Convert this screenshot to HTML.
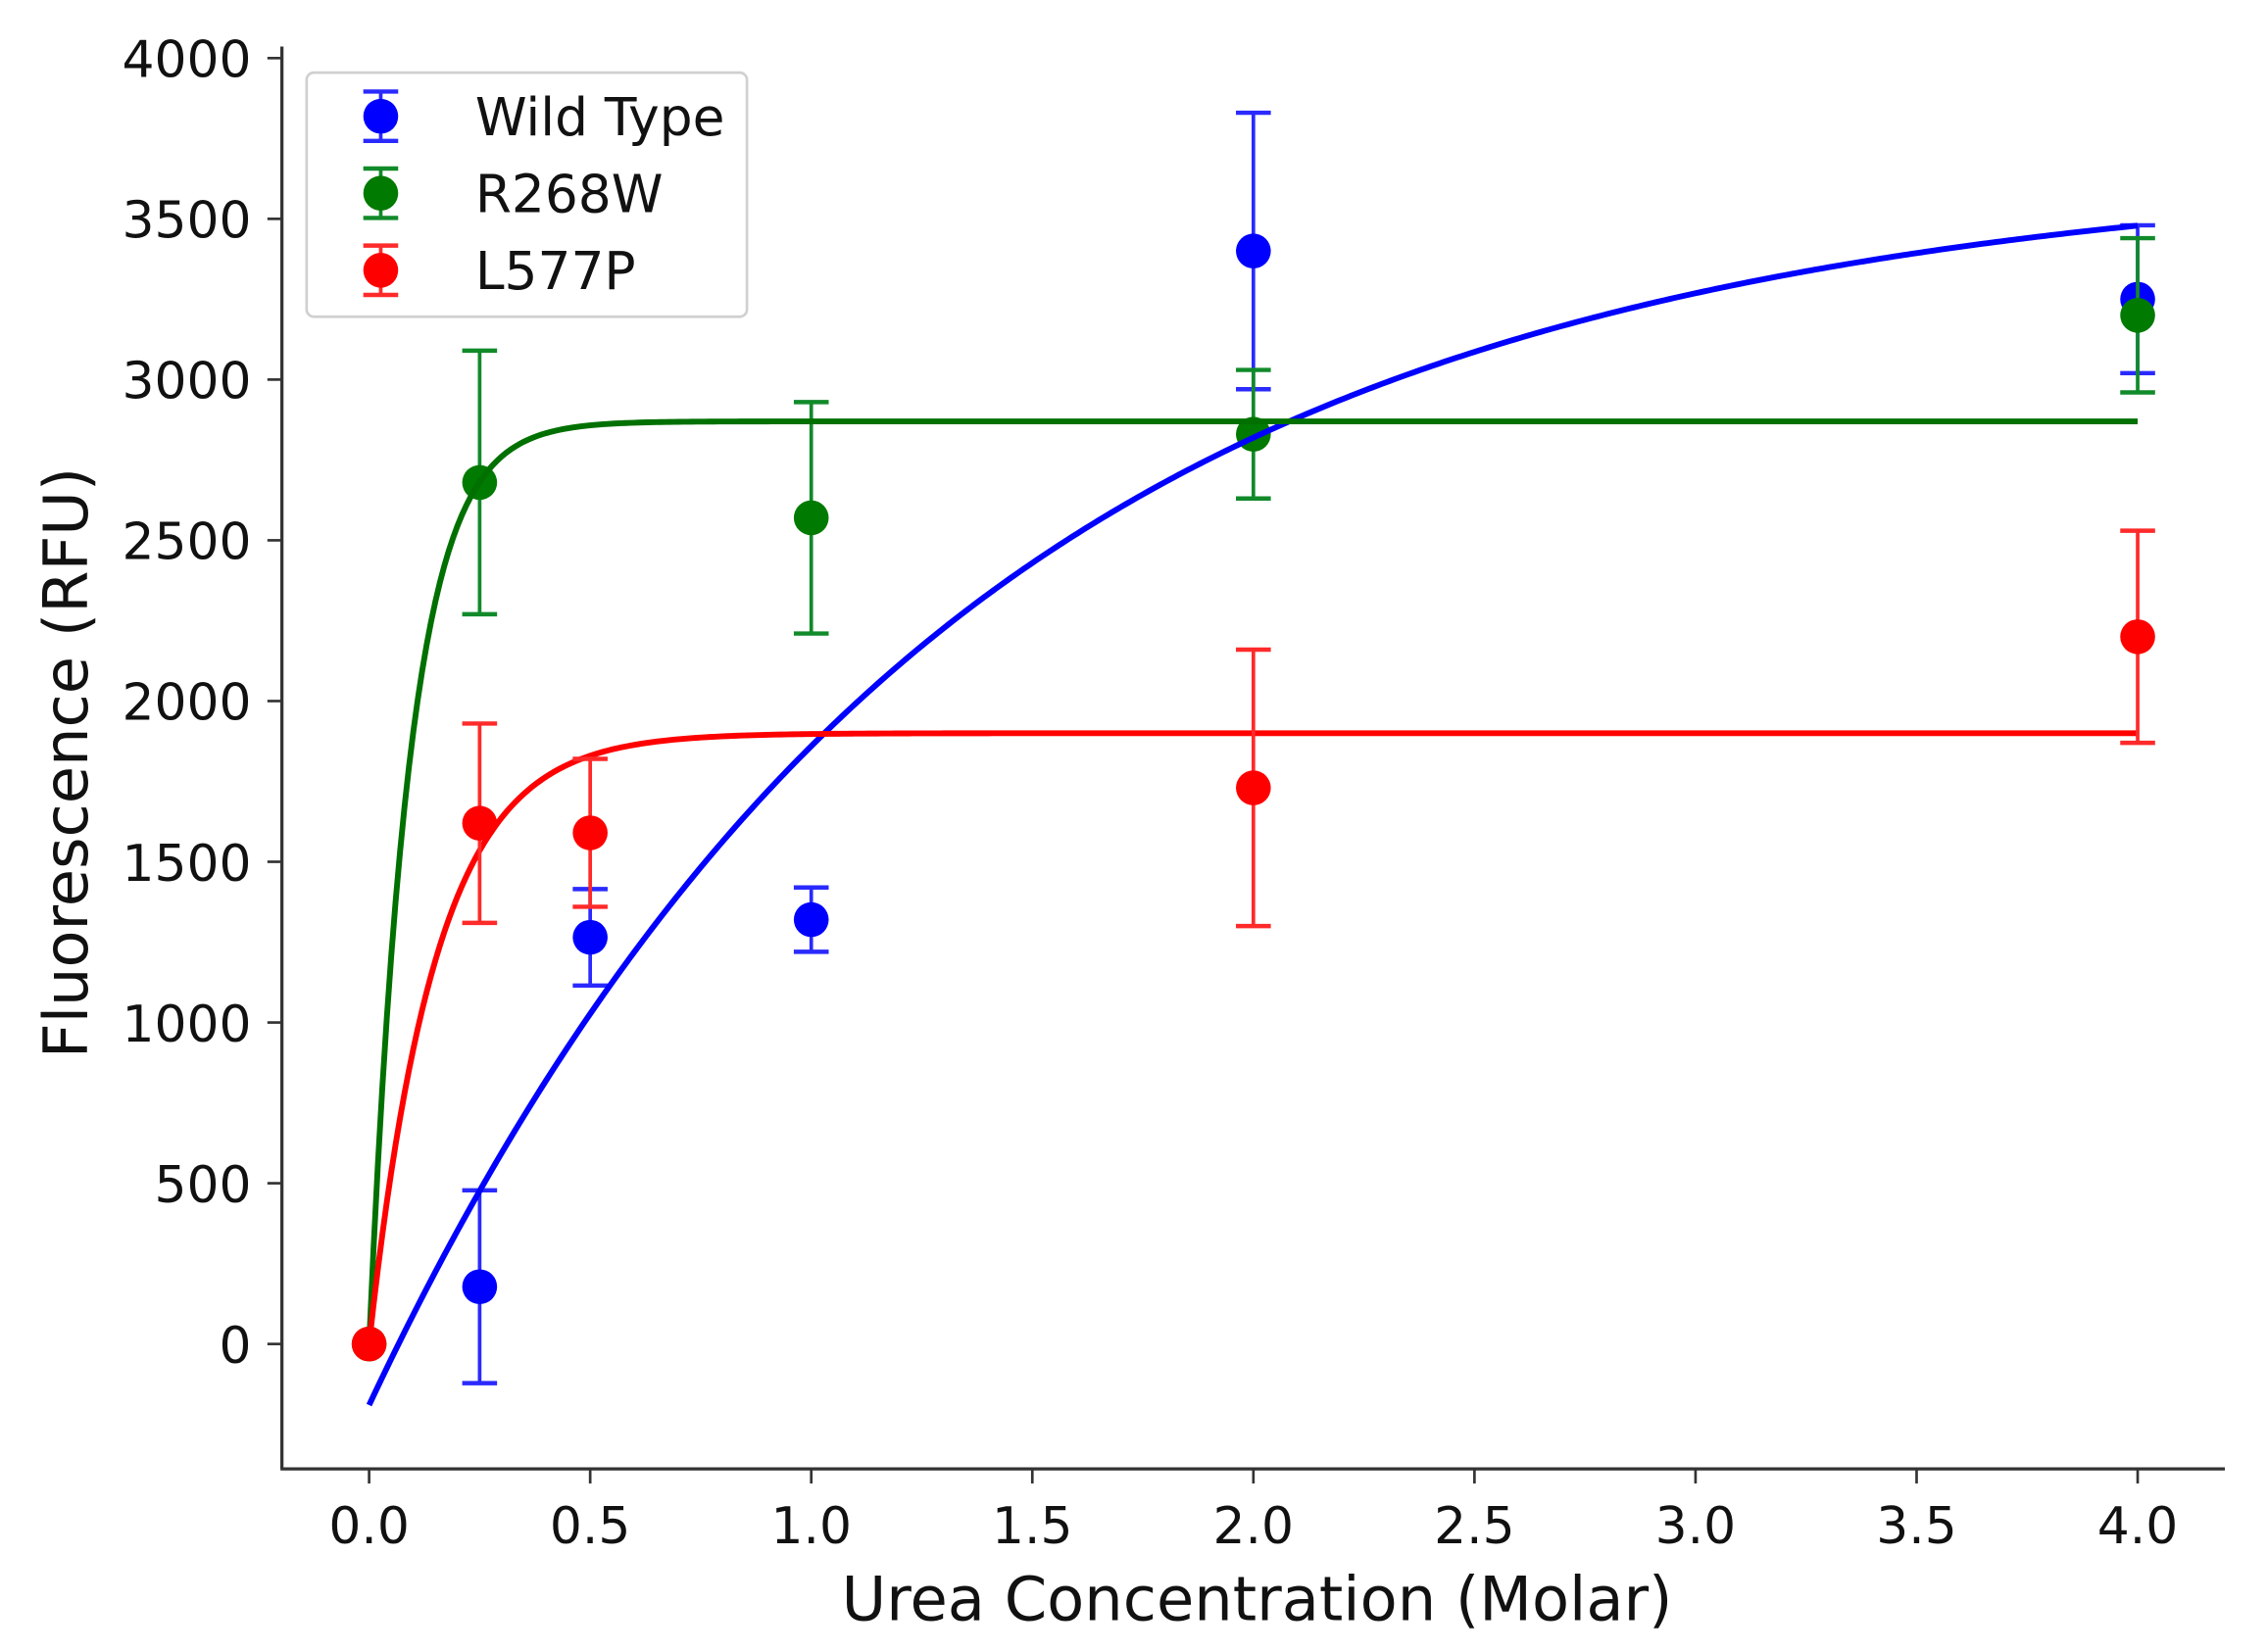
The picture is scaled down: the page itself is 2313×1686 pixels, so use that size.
<!DOCTYPE html>
<html><head><meta charset="utf-8"><style>
html,body{margin:0;padding:0;background:#fff;}
svg{display:block;}
text{font-family:"DejaVu Sans","Liberation Sans",sans-serif;fill:#111;}
</style></head><body>
<svg id="chart" width="2313" height="1686" viewBox="0 0 1560 1137" preserveAspectRatio="none" xmlns="http://www.w3.org/2000/svg">
<g id="plot"></g>
</svg>
<script>
const xTicks=[0,0.5,1,1.5,2,2.5,3,3.5,4];
const xTickLabels=["0.0","0.5","1.0","1.5","2.0","2.5","3.0","3.5","4.0"];
const yTicks=[0,500,1000,1500,2000,2500,3000,3500,4000];
const yTickLabels=["0","500","1000","1500","2000","2500","3000","3500","4000"];
const seriesNames=["Wild Type","R268W","L577P"];
const wtX=[0.25,0.5,1,2,4];
const wtY=[178,1265,1320,3400,3250];
const wtErr=[300,150,100,430,230];
const rX=[0,0.25,1,2,4];
const rY=[0,2680,2570,2830,3200];
const rErr=[0,410,360,200,240];
const lX=[0,0.25,0.5,2,4];
const lY=[0,1620,1590,1730,2200];
const lErr=[0,310,230,430,330];
// fit params: y = a - b*exp(-k x)
const wtFit=[3664,3854,0.759];
const rFit=[2870,2870,10.9];
const lFit=[1900,1900,6.6];

const NS="http://www.w3.org/2000/svg";
const g=document.getElementById('plot');
const X0=254,X1=1471,Y0=925,Y1=40;
const sx=v=>X0+(X1-X0)*v/4;
const sy=v=>Y0+(Y1-Y0)*v/4000;
function mk(t,a){const e=document.createElementNS(NS,t);for(const k in a)e.setAttribute(k,a[k]);g.appendChild(e);return e;}
function txt(s,a){const e=mk('text',a);e.textContent=s;return e;}

let e=mk('line',{x1:194,y1:32,x2:194,y2:1011,stroke:'#333','stroke-width':2.2});


e=mk('line',{x1:193,y1:1011,x2:1531,y2:1011,stroke:'#333','stroke-width':2.2});


xTicks.forEach((v,i)=>{
  let t=mk('line',{x1:sx(v),y1:1011,x2:sx(v),y2:1021,stroke:'#333','stroke-width':1.8});
  
  
  let l=txt(xTickLabels[i],{x:sx(v),y:1062,'text-anchor':'middle','font-size':35});
  
  
});
yTicks.forEach((v,i)=>{
  let t=mk('line',{x1:184,y1:sy(v),x2:194,y2:sy(v),stroke:'#333','stroke-width':1.8});
  
  
  let l=txt(yTickLabels[i],{x:173,y:sy(v)+13,'text-anchor':'end','font-size':35});
  
  
});
e=txt('Urea Concentration (Molar)',{x:865,y:1115,'text-anchor':'middle','font-size':42});


e=txt('Fluorescence (RFU)',{x:60,y:525,'text-anchor':'middle','font-size':42,transform:'rotate(-90 60 525)'});



function fitLine(p,col,name){
  let d='';
  for(let i=0;i<=400;i++){const x=4*i/400;const y=p[0]-p[1]*Math.exp(-p[2]*x);d+=(i?'L':'M')+sx(x).toFixed(2)+' '+sy(y).toFixed(2);}
  const l=mk('path',{d:d,fill:'none',stroke:col,'stroke-width':4});
  
  
}
function points(xs,ys,es,col,ecol,name){
  xs.forEach((x,i)=>{
    if(es[i]>0){
      const a=mk('line',{x1:sx(x),y1:sy(ys[i]-es[i]),x2:sx(x),y2:sy(ys[i]+es[i]),stroke:ecol,'stroke-width':2.5});
      
      
      [ys[i]-es[i],ys[i]+es[i]].forEach(v=>{
        const c=mk('line',{x1:sx(x)-12,y1:sy(v),x2:sx(x)+12,y2:sy(v),stroke:ecol,'stroke-width':3});
        
        
      });
    }
    const p=mk('circle',{cx:sx(x),cy:sy(ys[i]),r:12,fill:col});
    
    
  });
}
points(wtX,wtY,wtErr,'#0000ff','#2a2aff','wild-type');
points(rX,rY,rErr,'#007a00','#118a2a','r268w');
fitLine(wtFit,'#0000ff','wild-type-fit');
fitLine(rFit,'#007000','r268w-fit');
fitLine(lFit,'#ff0000','l577p-fit');
points(lX,lY,lErr,'#ff0000','#ff2a2a','l577p');

e=mk('rect',{x:211,y:50,width:303,height:168,rx:5,fill:'#fff',stroke:'#d0d0d0','stroke-width':1.8});


const lc=[['#0000ff','#2a2aff'],['#007a00','#118a2a'],['#ff0000','#ff2a2a']];
seriesNames.forEach((n,i)=>{
  const y=80+i*53;
  const b=mk('line',{x1:262,y1:y-17,x2:262,y2:y+17,stroke:lc[i][1],'stroke-width':2.5});
  
  
  [y-17,y+17].forEach(v=>{const c=mk('line',{x1:250,y1:v,x2:274,y2:v,stroke:lc[i][1],'stroke-width':3});
    
    });
  const m=mk('circle',{cx:262,cy:y,r:12,fill:lc[i][0]});
  
  
  const t=txt(n,{x:327,y:y+13,'font-size':36});
  
  
});
</script>
</body></html>
